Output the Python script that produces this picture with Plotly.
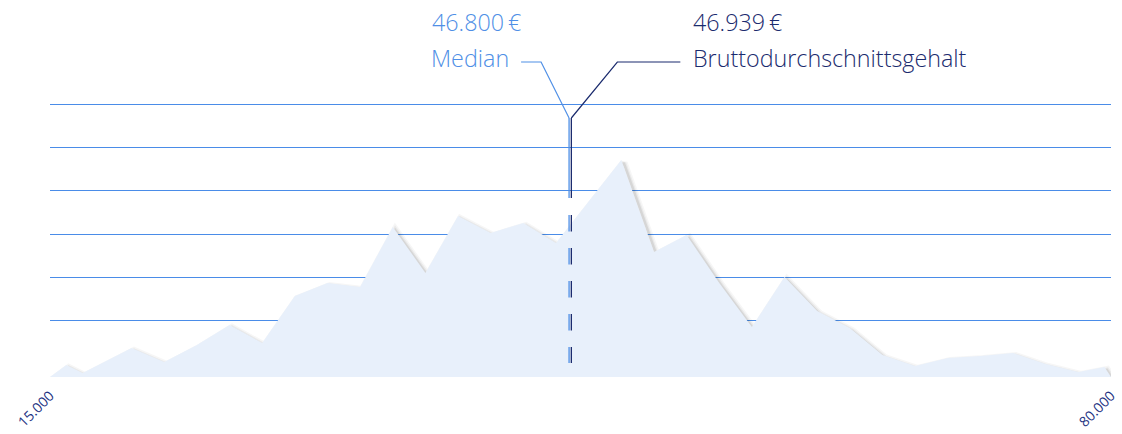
import plotly.graph_objects as go

# Salary distribution (gross annual salary in EUR) and relative frequency
salary = [15000, 16000, 17000, 20000, 22000, 24000, 26000, 28000, 30000, 32000,
          34000, 36000, 38000, 40000, 42000, 44000, 46000, 48000, 50000, 52000,
          54000, 56000, 58000, 60000, 62000, 64000, 66000, 68000, 70000, 72000,
          74000, 76000, 78000, 79600, 80000]
frequency = [0, 12, 4, 29, 15, 32, 52, 34, 81, 94,
             90, 150, 104, 161, 144, 154, 134, 176, 217, 125,
             142, 94, 50, 100, 66, 49, 22, 11, 19, 21,
             24, 13, 5, 10, 0]

grid_values = [57, 100, 143, 186.5, 230, 273]
x_ticks = [15000, 80000]
x_tick_labels = ["15.000", "80.000"]

median_value = 46800
mean_value = 46939
median_label = ["46.800\u2009€", "Median"]
mean_label = ["46.939\u2009€", "Bruttodurchschnittsgehalt"]

LIGHT = "#4F8FE6"
NAVY = "#1B2B6E"
FILL = "#E8F0FB"
GRID = "#4A8CE8"
FONT = "Open Sans"

W, H = 1122, 434
M_L, M_R, M_T, M_B = 50, 11, 77, 57
X_RANGE = [15000, 80000]
Y_RANGE = [0, 300]
plot_w = W - M_L - M_R
plot_h = H - M_T - M_B
x_per_px = (X_RANGE[1] - X_RANGE[0]) / plot_w
y_per_px = (Y_RANGE[1] - Y_RANGE[0]) / plot_h


def px_x(px):
    return (px - M_L) / plot_w


def px_y(py):
    return (H - M_B - py) / plot_h


# soft drop shadow: same outline drawn on axes shifted down-right
shadow_dx, shadow_dy = 2.5, 3
shadow_x_range = [X_RANGE[0] - shadow_dx * x_per_px, X_RANGE[1] - shadow_dx * x_per_px]
shadow_y_range = [Y_RANGE[0] + shadow_dy * y_per_px, Y_RANGE[1] + shadow_dy * y_per_px]

fig = go.Figure()
for width, alpha in [(8, 0.035), (5, 0.05), (2.5, 0.08)]:
    fig.add_trace(go.Scatter(
        x=salary, y=frequency, mode="lines", xaxis="x", yaxis="y",
        line=dict(color=f"rgba(0,0,0,{alpha})", width=width),
        hoverinfo="skip", showlegend=False,
    ))

fig.add_trace(go.Scatter(
    x=salary, y=frequency, mode="lines", xaxis="x2", yaxis="y2",
    fill="tozeroy", fillcolor=FILL, line=dict(width=0, color=FILL),
    hoverinfo="skip", showlegend=False,
))

# double marker line for median and mean
solid_top, solid_bottom = 259, 179
dash_top, dash_bottom = 162, 14
shapes = []
for value, color in [(median_value, LIGHT), (mean_value, NAVY)]:
    shapes.append(dict(type="line", xref="x2", yref="y2", x0=value, x1=value,
                       y0=solid_top, y1=solid_bottom, line=dict(color=color, width=1.3)))
    shapes.append(dict(type="line", xref="x2", yref="y2", x0=value, x1=value,
                       y0=dash_top, y1=dash_bottom,
                       line=dict(color=color, width=1.3, dash="16.5px,16.5px")))

# leader lines from the marker lines up to their labels
leader_anchor = px_y(118)
shapes.append(dict(type="path", xref="x2", yref="paper",
                   xsizemode="pixel", ysizemode="pixel",
                   xanchor=median_value, yanchor=leader_anchor,
                   path="M 0,0 L -28,56 L -48,56",
                   line=dict(color=LIGHT, width=1.2)))
shapes.append(dict(type="path", xref="x2", yref="paper",
                   xsizemode="pixel", ysizemode="pixel",
                   xanchor=mean_value, yanchor=leader_anchor,
                   path="M 0,0 L 46,56 L 109,56",
                   line=dict(color=NAVY, width=1.2)))

annotations = []
for text, px, py in zip(median_label, [523, 511], [22, 58]):
    annotations.append(dict(text=text, xref="paper", yref="paper", x=px_x(px), y=px_y(py),
                            xanchor="right", yanchor="middle", showarrow=False,
                            font=dict(family=FONT, size=23.3, weight=350, color=LIGHT)))
for text, py in zip(mean_label, [22, 58]):
    annotations.append(dict(text=text, xref="paper", yref="paper", x=px_x(691), y=px_y(py),
                            xanchor="left", yanchor="middle", showarrow=False,
                            font=dict(family=FONT, size=23.3, weight=350, color=NAVY)))

fig.update_layout(
    width=W, height=H,
    margin=dict(l=M_L, r=M_R, t=M_T, b=M_B, pad=0),
    paper_bgcolor="white", plot_bgcolor="white",
    showlegend=False,
    shapes=shapes,
    annotations=annotations,
    xaxis=dict(range=shadow_x_range, showgrid=False, zeroline=False, showline=False,
               showticklabels=False, fixedrange=True, automargin=False),
    yaxis=dict(range=shadow_y_range, showgrid=False, zeroline=False, showline=False,
               showticklabels=False, fixedrange=True, automargin=False),
    xaxis2=dict(range=X_RANGE, overlaying="x", anchor="y2", showgrid=False, zeroline=False,
                showline=False, tickmode="array", tickvals=x_ticks, ticktext=x_tick_labels,
                tickangle=-45, ticks="", ticklabelstandoff=7, automargin=False,
                tickfont=dict(family=FONT, size=14, color="#1E3382")),
    yaxis2=dict(range=Y_RANGE, overlaying="y", anchor="x2", showgrid=True, gridcolor=GRID,
                gridwidth=1.3, zeroline=False, showline=False, tickmode="array",
                tickvals=grid_values, showticklabels=False, automargin=False),
)

fig.write_html("out.html")
